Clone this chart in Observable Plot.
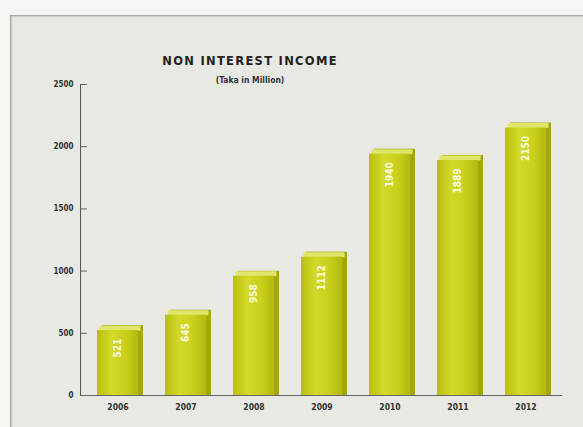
<!DOCTYPE html>
<html>
<head>
<meta charset="utf-8">
<script src="https://cdn.jsdelivr.net/npm/d3@7"></script>
<script src="https://cdn.jsdelivr.net/npm/@observablehq/plot@0.6"></script>
<style>
  html, body { margin: 0; padding: 0; }
  body { width: 583px; height: 427px; background: #f5f5f3; position: relative; overflow: hidden; font-family: "DejaVu Sans", sans-serif; }
  #panel { position: absolute; left: 10px; top: 15px; width: 590px; height: 430px; background: #e9e9e3; border: 1px solid #a9a9a5; box-shadow: 1px 1px 2px #c8c8c4 inset; }
  #title { position: absolute; left: 0; width: 500px; top: 54px; text-align: center; font: bold 11.5px "DejaVu Sans", sans-serif; letter-spacing: 1.3px; color: #222; }
  #subtitle { position: absolute; left: 0; width: 500px; top: 75px; text-align: center; font: bold 8.5px "DejaVu Sans Condensed", sans-serif; color: #333; }
  #chart { position: absolute; left: 0; top: 0; }
</style>
</head>
<body>
<div id="panel"></div>
<div id="title">NON INTEREST INCOME</div>
<div id="subtitle">(Taka in Million)</div>
<div id="chart"></div>
<script>
const years = ["2006", "2007", "2008", "2009", "2010", "2011", "2012"];
const income = [521, 645, 958, 1112, 1940, 1889, 2150];
const yTicks = [0, 500, 1000, 1500, 2000, 2500];

const data = years.map((y, i) => ({year: y, value: income[i]}));

const plot = Plot.plot({
  width: 583,
  height: 427,
  marginTop: 84,
  marginBottom: 32,
  marginLeft: 80,
  marginRight: 21,
  style: {background: "transparent", fontFamily: "DejaVu Sans Condensed, sans-serif"},
  x: {domain: years, paddingInner: 0.4, paddingOuter: 0.21},
  y: {domain: [0, 2500]},
  marks: [
    // side / depth faces
    Plot.barY(data, {x: "year", y: "value", fill: "#a3a80c", dx: 5, dy: -5, insetBottom: -5}),
    Plot.tickY(data, {x: "year", y: "value", stroke: "#dfe66a", strokeWidth: 5, dx: 2.5, dy: -2.5}),
    // front face
    Plot.barY(data, {x: "year", y: "value", fill: "url(#barGrad)"}),
    Plot.text(data, {x: "year", y: "value", text: d => String(d.value), rotate: -90, textAnchor: "end", dy: 8, fill: "#fbfde0", fontSize: 10, fontWeight: "bold"}),
    Plot.frame({anchor: "left", stroke: "#555"}),
    Plot.ruleY([0], {stroke: "#666", strokeWidth: 1.2}),
    Plot.axisY(yTicks, {tickSize: -7, label: null, text: null, stroke: "#666"}),
    Plot.axisY(yTicks, {tickSize: 0, tickPadding: 7, label: null, tickFormat: d3.format("d"), fontSize: 8, fontWeight: "bold", fill: "#333"}),
    Plot.axisX({tickSize: 0, tickPadding: 8, label: null, fontSize: 8.5, fontWeight: "bold", fill: "#333"})
  ]
});

const defs = d3.select(plot).insert("defs", ":first-child");
const g = defs.append("linearGradient").attr("id", "barGrad").attr("x1", "0").attr("x2", "1").attr("y1", "0").attr("y2", "0");
g.append("stop").attr("offset", "0%").attr("stop-color", "#b9bf10");
g.append("stop").attr("offset", "35%").attr("stop-color", "#d2d927");
g.append("stop").attr("offset", "70%").attr("stop-color", "#c9cf1c");
g.append("stop").attr("offset", "100%").attr("stop-color", "#b3b90e");

document.getElementById("chart").appendChild(plot);
</script>
</body>
</html>
